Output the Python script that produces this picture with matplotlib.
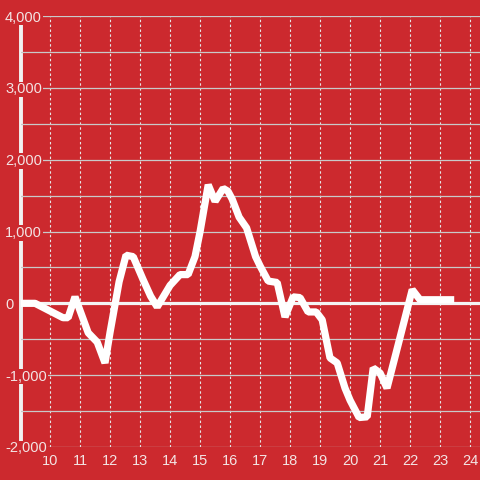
import matplotlib.pyplot as plt
from matplotlib.ticker import FuncFormatter

# hour of day and value
hours = [9.0, 9.5, 10.43, 10.6, 10.83, 11.27, 11.57, 11.83, 12.0, 12.3, 12.53,
         12.77, 13.1, 13.35, 13.57, 14.0, 14.33, 14.6, 14.83, 15.0, 15.27,
         15.5, 15.77, 15.93, 16.07, 16.3, 16.55, 16.85, 17.0, 17.27, 17.57,
         17.83, 18.1, 18.33, 18.6, 18.87, 19.07, 19.33, 19.57, 19.83, 20.0,
         20.3, 20.57, 20.77, 21.0, 21.23, 21.6, 22.07, 22.33, 23.35]
values = [0, 0, -200, -200, 90, -410, -540, -830, -400, 300, 670,
          650, 330, 100, -50, 250, 400, 400, 650, 1000, 1650,
          1420, 1600, 1560, 1450, 1200, 1050, 650, 520, 310, 290,
          -190, 90, 80, -120, -120, -230, -760, -830, -1180, -1350,
          -1590, -1580, -900, -970, -1180, -580, 190, 50, 50]

x_ticks = list(range(10, 25))
y_ticks = [-2000, -1000, 0, 1000, 2000, 3000, 4000]
y_minor = [-1500, -500, 500, 1500, 2500, 3500]

bg = '#cc292e'
txt = '#f3e4e4'

plt.rcParams['font.family'] = ['Liberation Sans', 'DejaVu Sans']

fig = plt.figure(figsize=(4.8, 4.8), dpi=100, facecolor=bg)
ax = fig.add_axes([21 / 480, 33 / 480, 459 / 480, 431 / 480])
ax.set_facecolor(bg)
ax.set_axisbelow(True)

ax.plot(hours, values, color='white', linewidth=5.2, solid_joinstyle='bevel', zorder=3)
ax.axhline(0, color='#f4f4f4', linewidth=2.3, zorder=2)

ax.set_xlim(9.03, 24.33)
ax.set_ylim(-2000, 4000)

ax.set_xticks(x_ticks)
ax.set_yticks(y_ticks)
ax.set_yticks(y_minor, minor=True)
ax.yaxis.set_major_formatter(FuncFormatter(lambda v, p: '{:,.0f}'.format(v)))

ax.grid(axis='y', which='both', color='#c9c9c9', linewidth=0.9)
ax.grid(axis='x', color='#e6e6e6', linewidth=0.8, dashes=(2.2, 2.2))

ax.tick_params(axis='both', which='both', length=0, colors=txt, labelsize=10.5)
ax.tick_params(axis='x', pad=5)
ax.tick_params(axis='y', pad=11.5)
for lab in ax.get_yticklabels():
    lab.set_horizontalalignment('left')
    lab.set_bbox(dict(facecolor=bg, edgecolor='none', pad=0.5))

for s in ['top', 'right', 'bottom']:
    ax.spines[s].set_visible(False)
ax.spines['left'].set_color('#f2f2f2')
ax.spines['left'].set_linewidth(2.8)
ax.spines['left'].set_zorder(0.4)

plt.savefig('out.png', dpi=100, facecolor=bg)
